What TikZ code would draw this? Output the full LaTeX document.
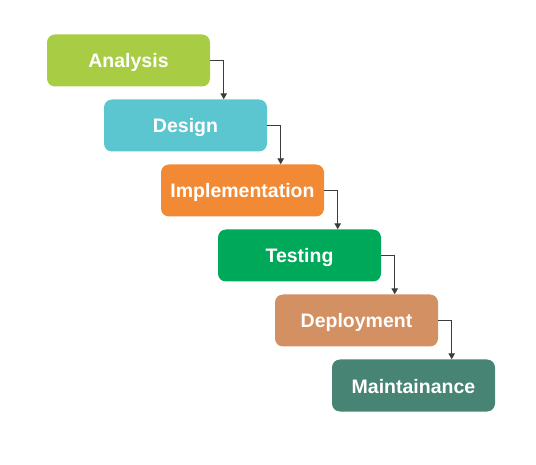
\documentclass[tikz,border=0pt]{standalone}
\usepackage{fontspec}
\setmainfont{Liberation Sans}
\usetikzlibrary{arrows.meta, positioning}
\definecolor{cAnalysis}{HTML}{A8CD45}
\definecolor{cDesign}{HTML}{5BC6D0}
\definecolor{cImpl}{HTML}{F28A35}
\definecolor{cTest}{HTML}{00A85A}
\definecolor{cDeploy}{HTML}{D29063}
\definecolor{cMaint}{HTML}{478473}
\definecolor{arrowGray}{HTML}{3C3C3C}

\begin{document}
\begin{tikzpicture}[
    x=1pt, y=-1pt,
    phase/.style={rectangle, rounded corners=8pt, draw=none,
                  minimum width=163pt, minimum height=52pt, inner sep=0pt,
                  text height=15pt, text depth=0pt,
                  text=white, font=\bfseries\fontsize{19.5}{22}\selectfont},
    arr/.style={-{Triangle[length=6pt, width=6.5pt]}, line width=1.1pt, color=arrowGray},
]
\useasboundingbox (0,0) rectangle (536,465);

\node[phase, fill=cAnalysis] (p1) at (128.5,60.5) {Analysis};
\node[phase, fill=cDesign]   (p2) at (185.5,125.5) {Design};
\node[phase, fill=cImpl]     (p3) at (242.5,190.5) {Implementation};
\node[phase, fill=cTest]     (p4) at (299.5,255.5) {Testing};
\node[phase, fill=cDeploy]   (p5) at (356.5,320.5) {Deployment};
\node[phase, fill=cMaint]    (p6) at (413.5,385.5) {Maintainance};

\foreach \a/\b in {p1/p2, p2/p3, p3/p4, p4/p5, p5/p6}
    \draw[arr] (\a.east) -| ([xshift=13.5pt]\a.east |- \b.north);

\end{tikzpicture}
\end{document}
